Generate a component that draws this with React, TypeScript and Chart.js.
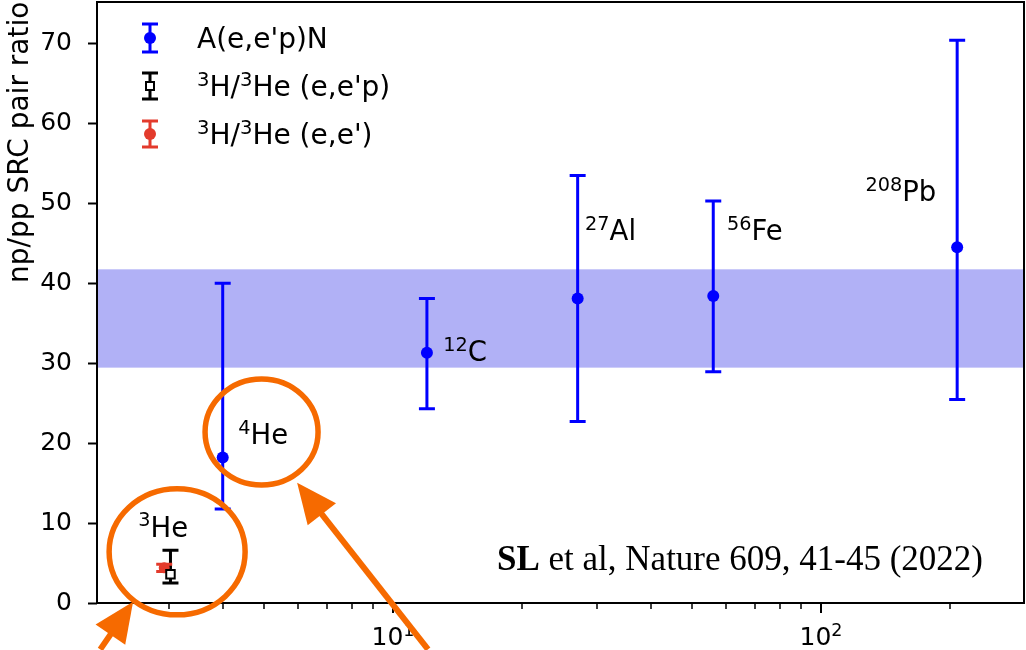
import { useEffect, useRef } from 'react';
import { Chart, registerables } from 'chart.js';

Chart.register(...registerables);

// A(e,e'p)N np/pp SRC pair ratios vs. mass number
const NUCLEUS_A = [4, 12, 27, 56, 208];
const NP_PP_RATIO = [18.2, 31.3, 38.1, 38.4, 44.5];
const RATIO_ERR_LOW = [6.45, 7.0, 15.4, 9.45, 19.05];
const RATIO_ERR_HIGH = [21.8, 6.8, 15.4, 11.9, 25.9];

// 3H/3He (e,e'p)
const TRI_EEP_A = [3.02];
const TRI_EEP_RATIO = [3.6];
const TRI_EEP_ERR_LOW = [1.1];
const TRI_EEP_ERR_HIGH = [3.0];

// 3H/3He (e,e')
const TRI_EE_A = [2.92];
const TRI_EE_RATIO = [4.4];
const TRI_EE_ERR = [0.45];

// heavy-nucleus average band
const BAND_RANGE = [29.45, 41.75];

// axes
const X_RANGE = [2.034, 298];
const Y_RANGE = [0, 75.2];
const Y_TICKS = [0, 10, 20, 30, 40, 50, 60, 70];
const X_MAJOR = [10, 100];
const X_MAJOR_EXP = ['1', '2'];
const X_MINOR = [3, 4, 5, 6, 7, 8, 9, 20, 30, 40, 50, 60, 70, 80, 90, 200];

// texts
const SERIES_NAMES = ["A(e,e'p)N", "(e,e'p)", "(e,e')"];
const LABEL_MASS = ['3', '4', '12', '27', '56', '208'];
const LABEL_SYMBOL = ['He', 'He', 'C', 'Al', 'Fe', 'Pb'];
const Y_TITLE = 'np/pp SRC pair ratio';
const CITATION_AUTHOR = 'SL';
const CITATION_REST = ' et al, Nature 609, 41-45 (2022)';

const BLUE = '#0000ff';
const RED = '#e33b2c';
const ORANGE = '#f66a00';
const BAND = '#b1b1f6';
const SANS = '"DejaVu Sans"';

// where the nucleus labels sit, in (A, ratio) coordinates
const LABEL_ANCHOR_X = [2.54, 4.35, 13.1, 28.1, 60.3, 127];
const LABEL_ANCHOR_Y = [8.3, 19.9, 30.3, 45.4, 45.4, 50.3];

type Part = [string, boolean];

function drawRich(ctx: CanvasRenderingContext2D, parts: Part[], x: number, y: number, size: number, align: 'left' | 'center' = 'left') {
  const supSize = size * 0.7;
  const raise = size * 0.37;
  const widths = parts.map(([t, sup]) => {
    ctx.font = `${sup ? supSize : size}px ${SANS}`;
    return ctx.measureText(t).width;
  });
  const total = widths.reduce((a, b) => a + b, 0);
  let cx = align === 'center' ? x - total / 2 : x;
  ctx.textAlign = 'left';
  ctx.textBaseline = 'alphabetic';
  parts.forEach(([t, sup], i) => {
    ctx.font = `${sup ? supSize : size}px ${SANS}`;
    ctx.fillText(t, cx, sup ? y - raise : y);
    cx += widths[i];
  });
}

function errorBar(ctx: CanvasRenderingContext2D, x: number, yTop: number, yBot: number, half: number, color: string, lw: number) {
  ctx.save();
  ctx.strokeStyle = color;
  ctx.lineWidth = lw;
  ctx.lineCap = 'butt';
  ctx.beginPath();
  ctx.moveTo(x, yTop);
  ctx.lineTo(x, yBot);
  ctx.moveTo(x - half, yTop);
  ctx.lineTo(x + half, yTop);
  ctx.moveTo(x - half, yBot);
  ctx.lineTo(x + half, yBot);
  ctx.stroke();
  ctx.restore();
}

function arrow(ctx: CanvasRenderingContext2D, tx: number, ty: number, hx: number, hy: number) {
  const ang = Math.atan2(hy - ty, hx - tx);
  const headLen = 40;
  const headHalf = 18;
  const bx = hx - headLen * Math.cos(ang);
  const by = hy - headLen * Math.sin(ang);
  ctx.save();
  ctx.strokeStyle = ORANGE;
  ctx.fillStyle = ORANGE;
  ctx.lineWidth = 6;
  ctx.beginPath();
  ctx.moveTo(tx, ty);
  ctx.lineTo(bx + 4 * Math.cos(ang), by + 4 * Math.sin(ang));
  ctx.stroke();
  ctx.beginPath();
  ctx.moveTo(hx, hy);
  ctx.lineTo(bx + headHalf * Math.sin(ang), by - headHalf * Math.cos(ang));
  ctx.lineTo(bx - headHalf * Math.sin(ang), by + headHalf * Math.cos(ang));
  ctx.closePath();
  ctx.fill();
  ctx.restore();
}

const decorations = {
  id: 'decorations',
  beforeDatasetsDraw(chart: any) {
    const { ctx, chartArea: ca, scales } = chart;
    const xs = scales.x;
    const ys = scales.y;
    // average band
    ctx.save();
    ctx.fillStyle = BAND;
    const yHi = ys.getPixelForValue(BAND_RANGE[1]);
    const yLo = ys.getPixelForValue(BAND_RANGE[0]);
    ctx.fillRect(ca.left, yHi, ca.right - ca.left, yLo - yHi);
    ctx.restore();
    // error bars
    NUCLEUS_A.forEach((a, i) => {
      const px = xs.getPixelForValue(a);
      errorBar(ctx, px, ys.getPixelForValue(NP_PP_RATIO[i] + RATIO_ERR_HIGH[i]), ys.getPixelForValue(NP_PP_RATIO[i] - RATIO_ERR_LOW[i]), 8, BLUE, 3);
    });
    TRI_EEP_A.forEach((a, i) => {
      const px = xs.getPixelForValue(a);
      errorBar(ctx, px, ys.getPixelForValue(TRI_EEP_RATIO[i] + TRI_EEP_ERR_HIGH[i]), ys.getPixelForValue(TRI_EEP_RATIO[i] - TRI_EEP_ERR_LOW[i]), 8, '#000', 3);
    });
    TRI_EE_A.forEach((a, i) => {
      const px = xs.getPixelForValue(a);
      errorBar(ctx, px, ys.getPixelForValue(TRI_EE_RATIO[i] + TRI_EE_ERR[i]), ys.getPixelForValue(TRI_EE_RATIO[i] - TRI_EE_ERR[i]), 8, RED, 3);
    });
  },
  afterDraw(chart: any) {
    const { ctx, chartArea: ca, scales } = chart;
    const xs = scales.x;
    const ys = scales.y;
    ctx.save();
    // frame
    ctx.strokeStyle = '#000';
    ctx.lineWidth = 2;
    ctx.strokeRect(ca.left, ca.top, ca.right - ca.left, ca.bottom - ca.top);
    // x ticks
    ctx.beginPath();
    ctx.lineWidth = 1.5;
    X_MINOR.forEach((v) => {
      const px = Math.round(xs.getPixelForValue(v));
      ctx.moveTo(px, ca.bottom);
      ctx.lineTo(px, ca.bottom + 6);
    });
    ctx.stroke();
    ctx.beginPath();
    ctx.lineWidth = 2;
    X_MAJOR.forEach((v) => {
      const px = Math.round(xs.getPixelForValue(v));
      ctx.moveTo(px, ca.bottom);
      ctx.lineTo(px, ca.bottom + 10);
    });
    ctx.stroke();
    ctx.fillStyle = '#000';
    X_MAJOR.forEach((v, i) => {
      drawRich(ctx, [['10', false], [X_MAJOR_EXP[i], true]], xs.getPixelForValue(v), ca.bottom + 42, 25, 'center');
    });

    // y title
    ctx.save();
    ctx.translate(28, 283);
    ctx.rotate(-Math.PI / 2);
    ctx.font = `28px ${SANS}`;
    ctx.textAlign = 'left';
    ctx.textBaseline = 'alphabetic';
    ctx.fillText(Y_TITLE, 0, 0);
    ctx.restore();

    // nucleus labels
    LABEL_MASS.forEach((m, i) => {
      drawRich(ctx, [[m, true], [LABEL_SYMBOL[i], false]], xs.getPixelForValue(LABEL_ANCHOR_X[i]), ys.getPixelForValue(LABEL_ANCHOR_Y[i]), 27.5);
    });

    // legend
    const lx = ca.left + 53;
    const ly = [38, 86, 134].map((v) => ca.top + v - 2);
    errorBar(ctx, lx, ly[0] - 14, ly[0] + 14, 8, BLUE, 3);
    ctx.fillStyle = BLUE;
    ctx.beginPath();
    ctx.arc(lx, ly[0], 6, 0, Math.PI * 2);
    ctx.fill();
    errorBar(ctx, lx, ly[1] - 13, ly[1] + 13, 8, '#000', 3);
    ctx.fillStyle = '#fff';
    ctx.fillRect(lx - 4, ly[1] - 4, 8, 8);
    ctx.strokeStyle = '#000';
    ctx.lineWidth = 2;
    ctx.strokeRect(lx - 4, ly[1] - 4, 8, 8);
    errorBar(ctx, lx, ly[2] - 13, ly[2] + 13, 8, RED, 3);
    ctx.fillStyle = RED;
    ctx.beginPath();
    ctx.arc(lx, ly[2], 6, 0, Math.PI * 2);
    ctx.fill();
    ctx.fillStyle = '#000';
    const tx = ca.left + 100;
    drawRich(ctx, [[SERIES_NAMES[0], false]], tx, ly[0] + 10, 28);
    drawRich(ctx, [['3', true], ['H/', false], ['3', true], ['He ' + SERIES_NAMES[1], false]], tx, ly[1] + 10, 28);
    drawRich(ctx, [['3', true], ['H/', false], ['3', true], ['He ' + SERIES_NAMES[2], false]], tx, ly[2] + 10, 28);

    // citation
    ctx.textAlign = 'left';
    ctx.textBaseline = 'alphabetic';
    ctx.font = `bold 35px "Liberation Serif"`;
    const cx0 = 497;
    ctx.fillText(CITATION_AUTHOR, cx0, 570);
    const w0 = ctx.measureText(CITATION_AUTHOR).width;
    ctx.font = `35px "Liberation Serif"`;
    ctx.fillText(CITATION_REST, cx0 + w0, 570);

    // highlight rings and arrows
    ctx.strokeStyle = ORANGE;
    ctx.lineWidth = 5.5;
    ctx.beginPath();
    ctx.ellipse(xs.getPixelForValue(3.13), ys.getPixelForValue(6.4), 68, 63, 0, 0, Math.PI * 2);
    ctx.stroke();
    ctx.beginPath();
    ctx.ellipse(xs.getPixelForValue(4.93), ys.getPixelForValue(21.4), 56.5, 53, 0, 0, Math.PI * 2);
    ctx.stroke();
    arrow(ctx, xs.getPixelForValue(2.07), ys.getPixelForValue(-5.8), xs.getPixelForValue(2.47), ys.getPixelForValue(0.16));
    arrow(ctx, xs.getPixelForValue(12.07), ys.getPixelForValue(-5.8), xs.getPixelForValue(5.97), ys.getPixelForValue(15.04));
    ctx.restore();
  },
};

export default function App() {
  const ref = useRef<HTMLCanvasElement | null>(null);
  useEffect(() => {
    if (!ref.current) return;
    const chart = new Chart(ref.current, {
      type: 'scatter',
      data: {
        datasets: [
          {
            label: SERIES_NAMES[0],
            data: NUCLEUS_A.map((a, i) => ({ x: a, y: NP_PP_RATIO[i] })),
            pointRadius: 6,
            pointBorderWidth: 0,
            backgroundColor: BLUE,
            borderColor: BLUE,
          },
          {
            label: SERIES_NAMES[1],
            data: TRI_EEP_A.map((a, i) => ({ x: a, y: TRI_EEP_RATIO[i] })),
            pointStyle: 'rect',
            pointRadius: 6,
            pointBorderWidth: 2,
            backgroundColor: '#fff',
            borderColor: '#000',
          },
          {
            label: SERIES_NAMES[2],
            data: TRI_EE_A.map((a, i) => ({ x: a, y: TRI_EE_RATIO[i] })),
            pointRadius: 5.5,
            pointBorderWidth: 0,
            backgroundColor: RED,
            borderColor: RED,
          },
        ],
      },
      options: {
        animation: false,
        responsive: false,
        maintainAspectRatio: false,
        events: [],
        layout: { autoPadding: false, padding: { top: 2, right: 2, bottom: 47, left: 0 } },
        plugins: { legend: { display: false }, tooltip: { enabled: false } },
        scales: {
          x: { type: 'logarithmic', min: X_RANGE[0], max: X_RANGE[1], display: false },
          y: {
            type: 'linear',
            min: Y_RANGE[0],
            max: Y_RANGE[1],
            afterFit: (s: any) => {
              s.width = 97;
              s.paddingTop = 0;
              s.paddingBottom = 0;
              s.paddingLeft = 0;
              s.paddingRight = 0;
            },
            afterBuildTicks: (s: any) => { s.ticks = Y_TICKS.map((v) => ({ value: v })); },
            ticks: { font: { family: 'DejaVu Sans', size: 25 }, color: '#000', padding: 16, callback: (v: any) => String(v) },
            grid: { drawOnChartArea: false, drawTicks: true, tickLength: 9, tickWidth: 2, tickColor: '#000', color: '#000' },
            border: { display: false },
          },
        },
      },
      plugins: [decorations],
    });
    return () => chart.destroy();
  }, []);
  return (
    <div style={{ position: 'fixed', left: 0, top: 0, width: 1026, height: 650, background: '#fff' }}>
      <canvas ref={ref} width={1026} height={650} style={{ width: 1026, height: 650 }} />
    </div>
  );
}
